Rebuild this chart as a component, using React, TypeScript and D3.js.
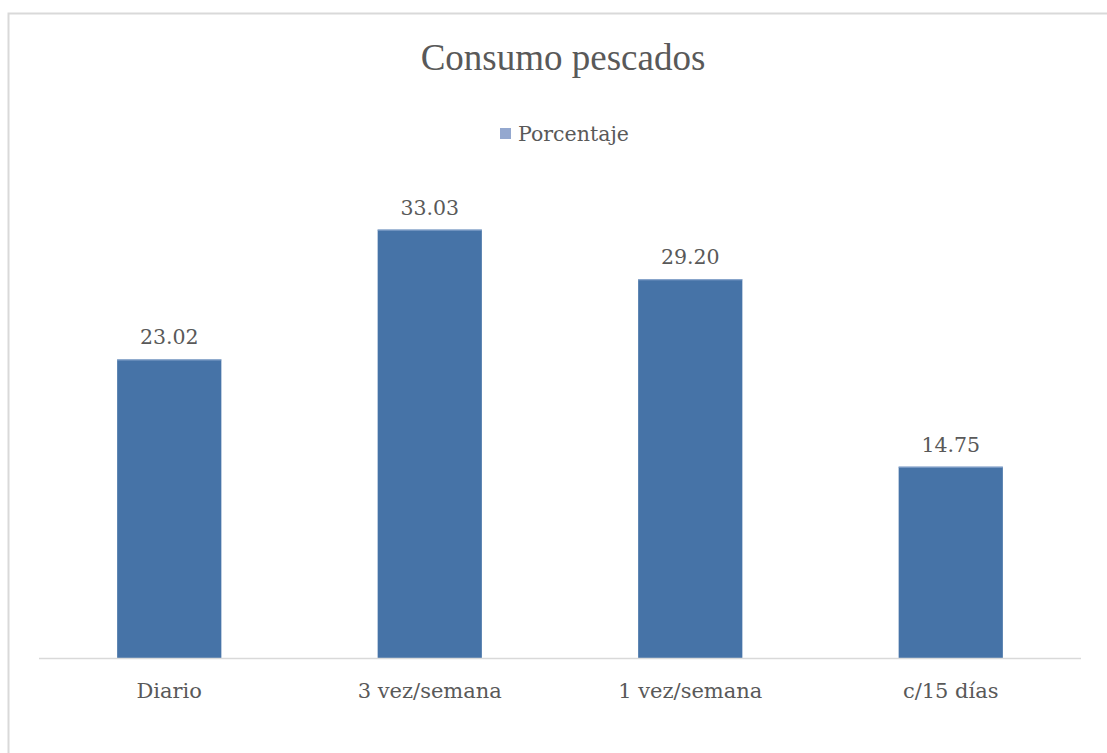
import React from "react";
import * as d3 from "d3";

const categories = ["Diario", "3 vez/semana", "1 vez/semana", "c/15 días"];
const values = [23.02, 33.03, 29.2, 14.75];
const seriesName = "Porcentaje";
const title = "Consumo pescados";

export default function App() {
  const W = 1107, H = 753;
  const left = 39, right = 1081, baseline = 658;
  const x = d3.scaleBand<string>().domain(categories).range([left, right]).paddingInner(0.6).paddingOuter(0.3);
  const y = d3.scaleLinear().domain([0, 35]).range([baseline, baseline - 12.97 * 35]);
  const titleFont = "'Liberation Serif', serif";
  const font = "'DejaVu Serif', serif";
  const textColor = "#595959";
  return (
    <svg width={W} height={H} style={{ position: "absolute", left: 0, top: 0 }}>
      <rect x={0} y={0} width={W} height={H} fill="#fff" />
      <rect x={8.5} y={13.5} width={W} height={H} fill="#fff" stroke="#d9d9d9" strokeWidth={2} />
      <text x={563} y={70} textAnchor="middle" fontFamily={titleFont} fontSize={37} fill={textColor}>{title}</text>
      <rect x={500} y={128} width={11} height={11} fill="#94a8cf" />
      <text x={518} y={141} fontFamily={font} fontSize={20.5} fill={textColor}>{seriesName}</text>
      {categories.map((c, i) => (
        <g key={c}>
          <rect x={x(c)!} y={y(values[i])} width={x.bandwidth()} height={baseline - y(values[i])} fill="#4673a7" />
          <line x1={x(c)!} x2={x(c)! + x.bandwidth()} y1={y(values[i]) + 0.5} y2={y(values[i]) + 0.5} stroke="#8eaad0" strokeWidth={1} />
          <text x={x(c)! + x.bandwidth() / 2} y={y(values[i]) - 15} textAnchor="middle" fontFamily={font} fontSize={20.5} fill={textColor}>{values[i].toFixed(2)}</text>
          <text x={x(c)! + x.bandwidth() / 2} y={698} textAnchor="middle" fontFamily={font} fontSize={21} fill={textColor}>{c}</text>
        </g>
      ))}
      <line x1={left} x2={right} y1={baseline + 0.5} y2={baseline + 0.5} stroke="#d9d9d9" strokeWidth={1.5} />
    </svg>
  );
}
